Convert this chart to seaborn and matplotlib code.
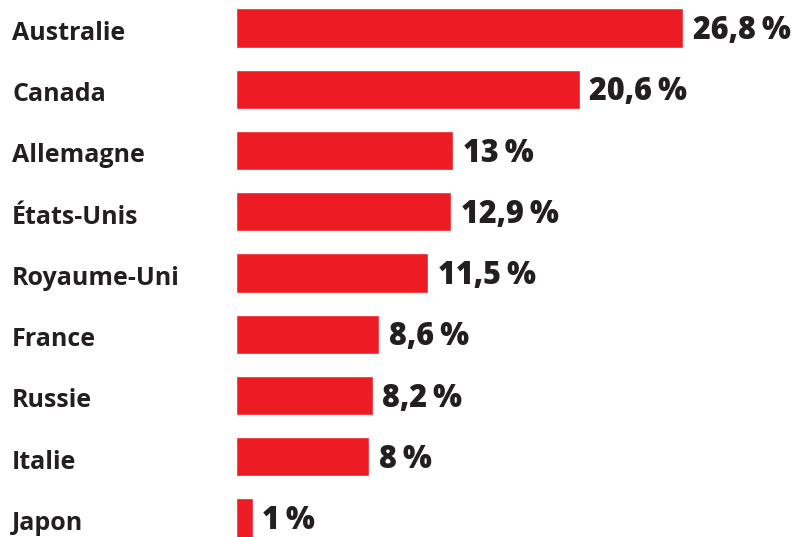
"""
Horizontal bar chart: share by country (French labels).
"""

import matplotlib
matplotlib.use("Agg")
import matplotlib.pyplot as plt
import matplotlib.transforms as mtransforms
import seaborn as sns
import pandas as pd

# Data
countries = ["Australie", "Canada", "Allemagne", "États-Unis", "Royaume-Uni",
             "France", "Russie", "Italie", "Japon"]
values = [26.8, 20.6, 13, 12.9, 11.5, 8.6, 8.2, 8, 1]
value_labels = ["26,8", "20,6", "13", "12,9", "11,5", "8,6", "8,2", "8", "1"]

RED = "#ED1C24"
INK = "#231F20"

sns.set_theme(style="white")
plt.rcParams["font.family"] = ["Open Sans", "DejaVu Sans"]

df = pd.DataFrame({"country": countries, "value": values})

fig = plt.figure(figsize=(7.98, 5.37), dpi=100)
ax = fig.add_axes([236 / 798, 0, 1 - 236 / 798, 1])

sns.barplot(data=df, x="value", y="country", color=RED, saturation=1,
            width=0.64, ax=ax)

ax.set_xlim(0, (798 - 236) / 16.68)
ax.set_ylim(8.31, -0.457)
ax.axis("off")

# Country names on the left (baseline about 11 px below the bar centre)
trans = mtransforms.blended_transform_factory(fig.transFigure, ax.transData)
for i, name in enumerate(countries):
    ax.annotate(name, xy=(12 / 798, i), xycoords=trans, xytext=(0, -8.5),
                textcoords="offset points", ha="left", va="baseline",
                fontsize=18, fontweight="bold", color=INK)

# Value labels at bar ends
for i, (v, lab) in enumerate(zip(values, value_labels)):
    ax.annotate(lab + "\u2009%", xy=(v, i), xytext=(7, -8),
                textcoords="offset points", ha="left", va="baseline",
                fontsize=22, fontweight="heavy", color=INK)

fig.savefig("out.png", dpi=100)
plt.close(fig)
